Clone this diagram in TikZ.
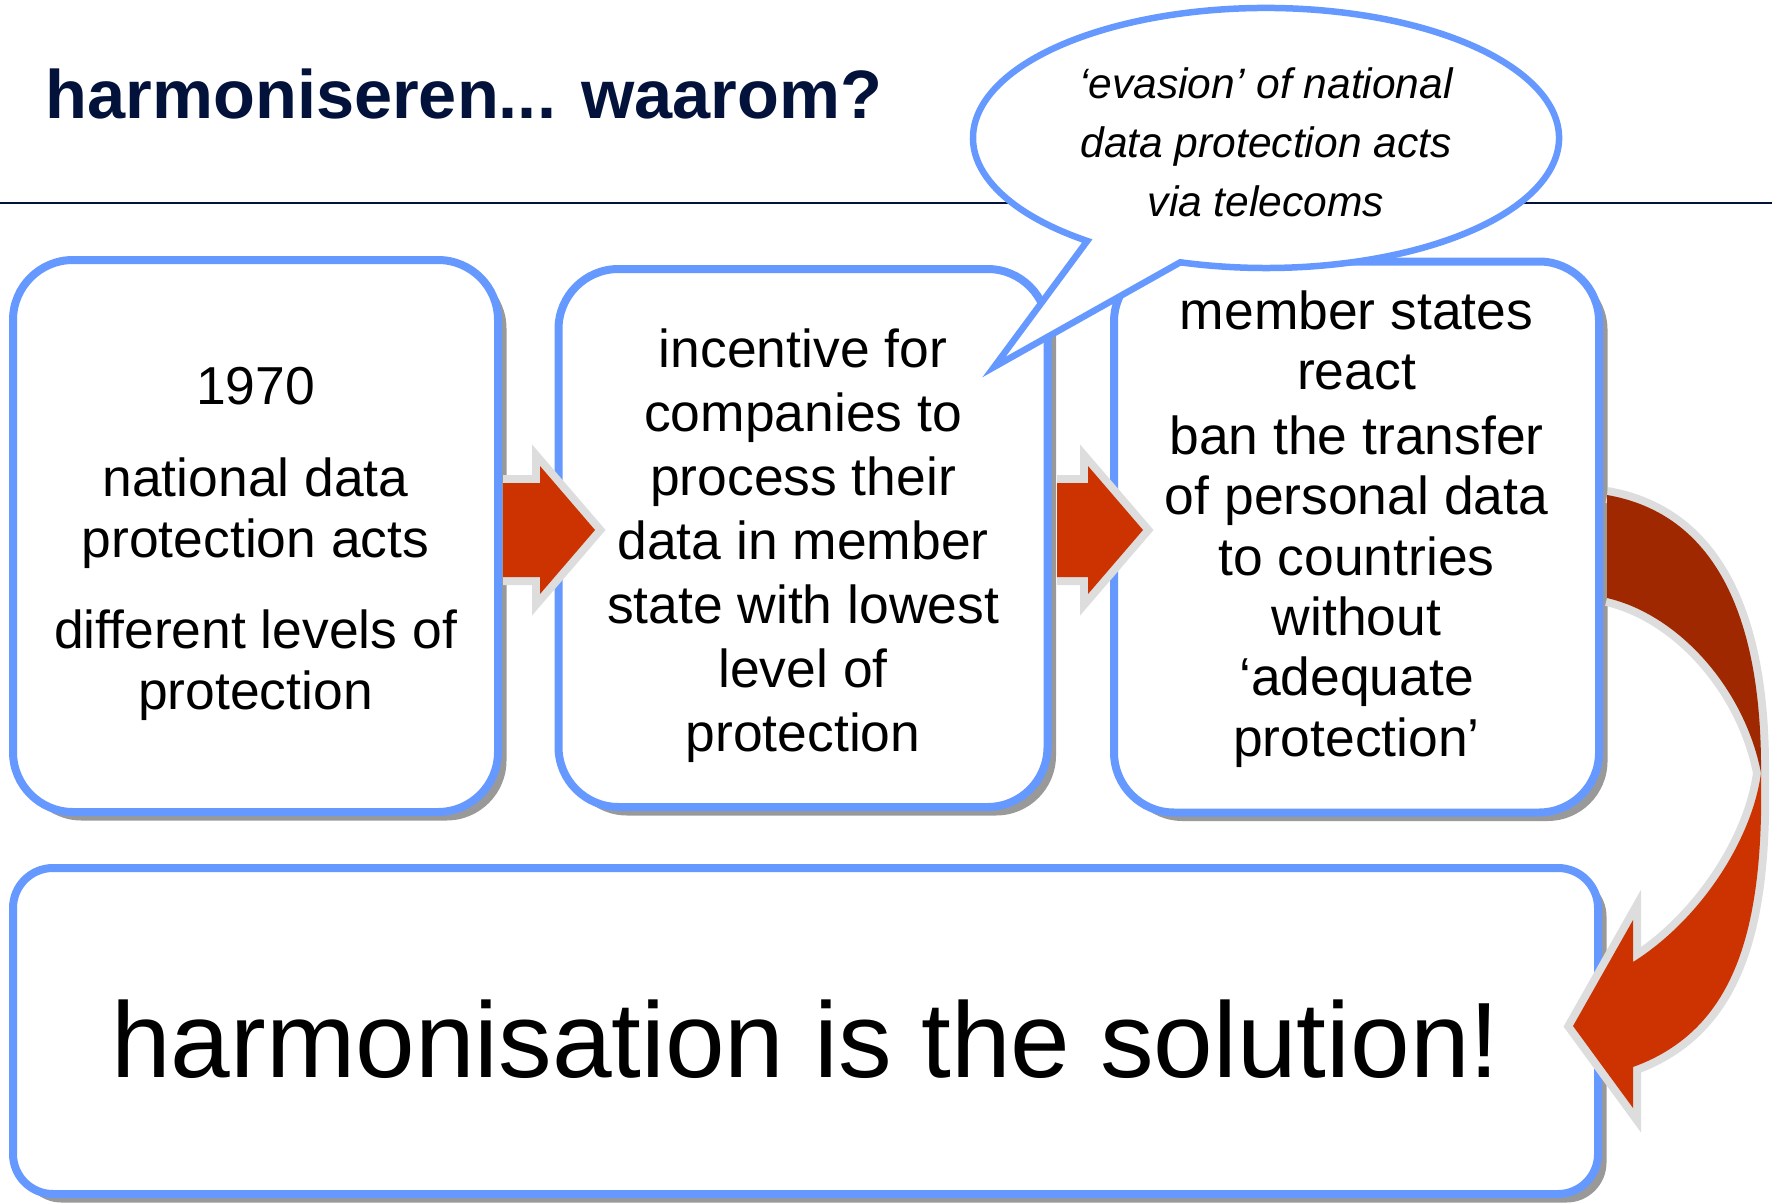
\documentclass[tikz,border=0pt]{standalone}
\usepackage{fontspec}
\setmainfont{Liberation Sans}
\usepackage{xcolor}
\usepackage{tikz}
\usetikzlibrary{shadows}

\definecolor{boxblue}{HTML}{6699FF}
\definecolor{arrowred}{HTML}{CC3300}
\definecolor{backred}{HTML}{A02800}
\definecolor{rimgray}{HTML}{DDDDDD}
\definecolor{titlenavy}{HTML}{03123A}

\begin{document}
\begin{tikzpicture}[x=0.1mm,y=-0.1mm,
  box/.style={draw=boxblue, line width=0.8mm, fill=white, rounded corners=6mm,
    drop shadow={shadow xshift=0.85mm, shadow yshift=-0.85mm, fill=black!40, opacity=1}},
  boxtext/.style={align=center, inner sep=0pt, font=\fontsize{15.2}{17.3}\selectfont},
  title/.style={anchor=base west, inner sep=0pt, text=titlenavy,
    font=\bfseries\fontsize{19.5}{23}\selectfont},
  rule/.style={draw=titlenavy, line width=0.2mm},
  rim/.style={draw=rimgray, line width=1.6mm, line join=miter},
  callout/.style={draw=boxblue, line width=0.65mm, fill=white, line join=miter},
  callouttext/.style={align=center, inner sep=0pt, font=\itshape\fontsize{12.1}{16.8}\selectfont}]
\useasboundingbox (0,0) rectangle (1772,1203);

\node[title] (title) at (45,119) {harmoniseren... waarom?};
\draw[rule] (0,203) -- (1772,203);

\node[box, minimum width=48.5mm, minimum height=55.2mm] (box1) at (255.5,536) {};
\node[box, minimum width=48.9mm, minimum height=53.8mm] (box2) at (803,538) {};
\node[box, minimum width=48.5mm, minimum height=55.1mm] (box3) at (1356.5,537) {};
\node[box, rounded corners=4mm, minimum width=158.5mm, minimum height=32.6mm] (sol) at (805.5,1031) {};

\node[boxtext] (facts) at ([yshift=-0.8mm]box1.center)
  {1970\\[3.1mm]national data\\protection acts\\[3.1mm]different levels of\\protection};
\node[boxtext, font=\fontsize{15.2}{18.2}\selectfont] (incentive) at ([yshift=-0.8mm]box2.center)
  {incentive for\\companies to\\process their\\data in member\\state with lowest\\level of\\protection};
\node[boxtext, font=\fontsize{15.2}{17.2}\selectfont] (react) at ([yshift=0.8mm]box3.center)
  {member states\\react\\[0.4mm]ban the transfer\\of personal data\\to countries\\without\\‘adequate\\protection’};
\node[boxtext, font=\fontsize{30.5}{36}\selectfont] (solution) at ([yshift=-0.8mm]sol.center)
  {harmonisation is the solution!};

\foreach \a/\b/\c in {503/540/595, 1057/1088/1143} {
  \draw[rim] (\a,483) -- (\b,483) -- (\b,466) -- (\c,530) -- (\b,594) -- (\b,577) -- (\a,577);
  \fill[arrowred] (\a,483) -- (\b,483) -- (\b,466) -- (\c,530) -- (\b,594) -- (\b,577) -- (\a,577) -- cycle;
}

\draw[rim] (1607,495) .. controls (1705,512) and (1762,600) .. (1761,773)
  .. controls (1764,930) and (1735,1030) .. (1633,1067) -- (1633,1108) -- (1573,1026)
  -- (1633,920) -- (1633,962) .. controls (1700,920) and (1752,840) .. (1761,773)
  .. controls (1745,690) and (1680,615) .. (1607,598);
\fill[backred] (1607,495) .. controls (1705,512) and (1762,600) .. (1761,773)
  .. controls (1745,690) and (1680,615) .. (1607,598) -- cycle;
\fill[arrowred] (1761,773) .. controls (1764,930) and (1735,1030) .. (1633,1067)
  -- (1633,1108) -- (1573,1026) -- (1633,920) -- (1633,962)
  .. controls (1700,920) and (1752,840) .. (1761,773) -- cycle;

\draw[callout] (1180.3,262.3) arc[start angle=107, end angle=-232.4, x radius=293, y radius=130]
  -- (994,367) -- cycle;
\node[callouttext] (evasion) at (1266,142) {‘evasion’ of national\\data protection acts\\via telecoms};
\end{tikzpicture}
\end{document}
